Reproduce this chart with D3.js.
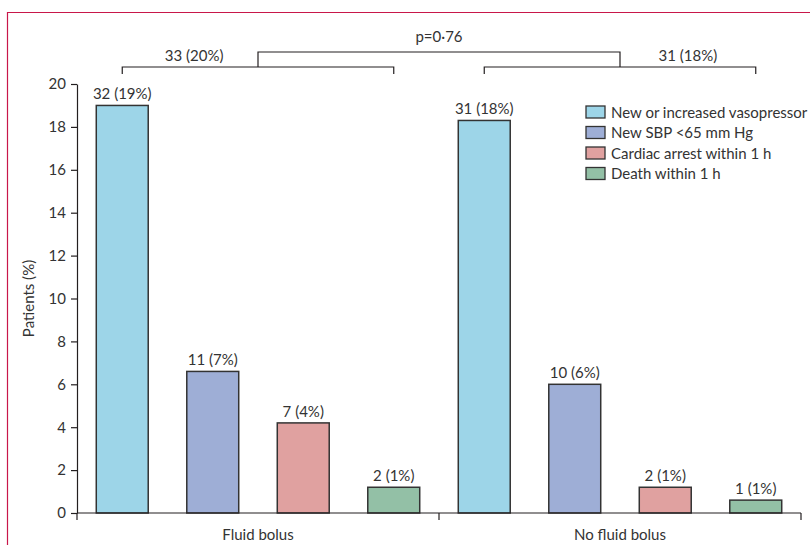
<!DOCTYPE html>
<html>
<head>
<meta charset="utf-8">
<script src="https://cdn.jsdelivr.net/npm/d3@7"></script>
<style>
  body { margin: 0; background: #fff; }
  svg text { font-family: Lato, "Open Sans", sans-serif; fill: #333; }
</style>
</head>
<body>
<svg id="chart" width="810" height="545"></svg>
<script>
// groups along the x axis
const groups = ["Fluid bolus", "No fluid bolus"];
// outcome series
const series = ["New or increased vasopressor", "New SBP <65 mm Hg", "Cardiac arrest within 1 h", "Death within 1 h"];
const colors = ["#9dd5e8", "#9eaed6", "#e0a1a0", "#93c0a6"];
// percentages
const fluidValues = [19, 6.6, 4.2, 1.2];
const noFluidValues = [18.3, 6.0, 1.2, 0.6];
// labels above bars
const fluidLabels = ["32 (19%)", "11 (7%)", "7 (4%)", "2 (1%)"];
const noFluidLabels = ["31 (18%)", "10 (6%)", "2 (1%)", "1 (1%)"];
// bracket labels
const groupTotals = ["33 (20%)", "31 (18%)"];
const pValue = "p=0·76";
const yTicks = [0, 2, 4, 6, 8, 10, 12, 14, 16, 18, 20];

const svg = d3.select("#chart");
const ink = "#231f20";
const fs = 15;

// panel frame (top and left)
svg.append("line").attr("x1", 7).attr("x2", 810).attr("y1", 12.5).attr("y2", 12.5)
    .attr("stroke", "#c8174a").attr("stroke-width", 1.2);
svg.append("line").attr("x1", 7.5).attr("x2", 7.5).attr("y1", 12).attr("y2", 545)
    .attr("stroke", "#c8174a").attr("stroke-width", 1.2);

const margin = { left: 77, right: 9, top: 84, bottom: 32 };
const width = 810 - margin.left - margin.right;
const baseY = 545 - margin.bottom;

const x0 = d3.scaleBand().domain(groups).range([margin.left, margin.left + width]);
const x1 = d3.scaleBand().domain(series).range([0, x0.bandwidth()])
    .paddingInner(0.426).paddingOuter(0.213);
const y = d3.scaleLinear().domain([0, 20]).range([baseY, margin.top]);

const data = groups.map((g, i) => ({
    group: g,
    values: series.map((s, j) => ({
        series: s,
        value: i === 0 ? fluidValues[j] : noFluidValues[j],
        label: i === 0 ? fluidLabels[j] : noFluidLabels[j],
        color: colors[j]
    }))
}));

// y axis
const yAxis = svg.append("g")
    .attr("transform", `translate(${margin.left},0)`)
    .call(d3.axisLeft(y).tickValues(yTicks).tickSize(6).tickPadding(5).tickSizeOuter(0));
yAxis.select(".domain").attr("stroke", ink).attr("stroke-width", 1.2);
yAxis.selectAll(".tick line").attr("stroke", ink).attr("stroke-width", 1.2);
yAxis.selectAll(".tick text").attr("font-size", fs).attr("fill", "#333").style("font-family", "Lato, sans-serif");

svg.append("text")
    .attr("transform", `translate(34,${(baseY + margin.top) / 2}) rotate(-90)`)
    .attr("text-anchor", "middle")
    .attr("font-size", fs)
    .text("Patients (%)");

// bars
const gGroups = svg.selectAll(".grp").data(data).enter().append("g")
    .attr("class", "grp")
    .attr("transform", d => `translate(${x0(d.group)},0)`);

gGroups.selectAll("rect").data(d => d.values).enter().append("rect")
    .attr("x", d => x1(d.series))
    .attr("y", d => y(d.value))
    .attr("width", x1.bandwidth())
    .attr("height", d => baseY - y(d.value))
    .attr("fill", d => d.color)
    .attr("stroke", "#333")
    .attr("stroke-width", 1.5);

gGroups.selectAll("text.lbl").data(d => d.values).enter().append("text")
    .attr("class", "lbl")
    .attr("x", d => x1(d.series) + x1.bandwidth() / 2)
    .attr("y", d => y(d.value) - 6)
    .attr("text-anchor", "middle")
    .attr("font-size", fs)
    .text(d => d.label);

// x axis
const xAxis = svg.append("g")
    .attr("transform", `translate(0,${baseY})`)
    .call(d3.axisBottom(x0).tickSize(0).tickPadding(16));
xAxis.select(".domain").remove();
xAxis.selectAll(".tick text").attr("font-size", fs).attr("fill", "#333").style("font-family", "Lato, sans-serif");
svg.append("line")
    .attr("x1", margin.left).attr("x2", margin.left + width)
    .attr("y1", baseY).attr("y2", baseY)
    .attr("stroke", ink).attr("stroke-width", 1.2);
const sepX = [x0.range()[0], x0(groups[1]), x0.range()[1]];
svg.selectAll(".sep").data(sepX).enter().append("line")
    .attr("class", "sep")
    .attr("x1", d => d).attr("x2", d => d)
    .attr("y1", baseY).attr("y2", baseY + 7)
    .attr("stroke", ink).attr("stroke-width", 1.2);

// brackets
const bracketY = 67, topY = 52, tickDown = 7;
const mids = [];
groups.forEach((g, i) => {
    const xa = x0(g) + x1(series[0]) + x1.bandwidth() / 2;
    const xb = x0(g) + x1(series[series.length - 1]) + x1.bandwidth() / 2;
    const mid = (xa + xb) / 2;
    mids.push(mid);
    svg.append("path")
        .attr("d", `M${xa},${bracketY + tickDown}V${bracketY}H${xb}V${bracketY + tickDown}`)
        .attr("fill", "none").attr("stroke", ink).attr("stroke-width", 1.2);
    const labelX = i === 0 ? (xa + mid) / 2 + 4 : (mid + xb) / 2;
    svg.append("text")
        .attr("x", labelX).attr("y", bracketY - 6)
        .attr("text-anchor", "middle")
        .attr("font-size", fs)
        .text(groupTotals[i]);
});
svg.append("path")
    .attr("d", `M${mids[0]},${bracketY}V${topY}H${mids[1]}V${bracketY}`)
    .attr("fill", "none").attr("stroke", ink).attr("stroke-width", 1.2);
svg.append("text")
    .attr("x", (mids[0] + mids[1]) / 2).attr("y", topY - 10)
    .attr("text-anchor", "middle")
    .attr("font-size", fs)
    .text(pValue);

// legend
const legend = svg.append("g").attr("transform", "translate(586,106)");
const rows = legend.selectAll("g").data(series).enter().append("g")
    .attr("transform", (d, i) => `translate(0,${i * 20.5})`);
rows.append("rect")
    .attr("width", 19).attr("height", 12)
    .attr("fill", (d, i) => colors[i])
    .attr("stroke", "#333").attr("stroke-width", 1.3);
rows.append("text")
    .attr("x", 25).attr("y", 11.5)
    .attr("font-size", fs)
    .text(d => d);
</script>
</body>
</html>
